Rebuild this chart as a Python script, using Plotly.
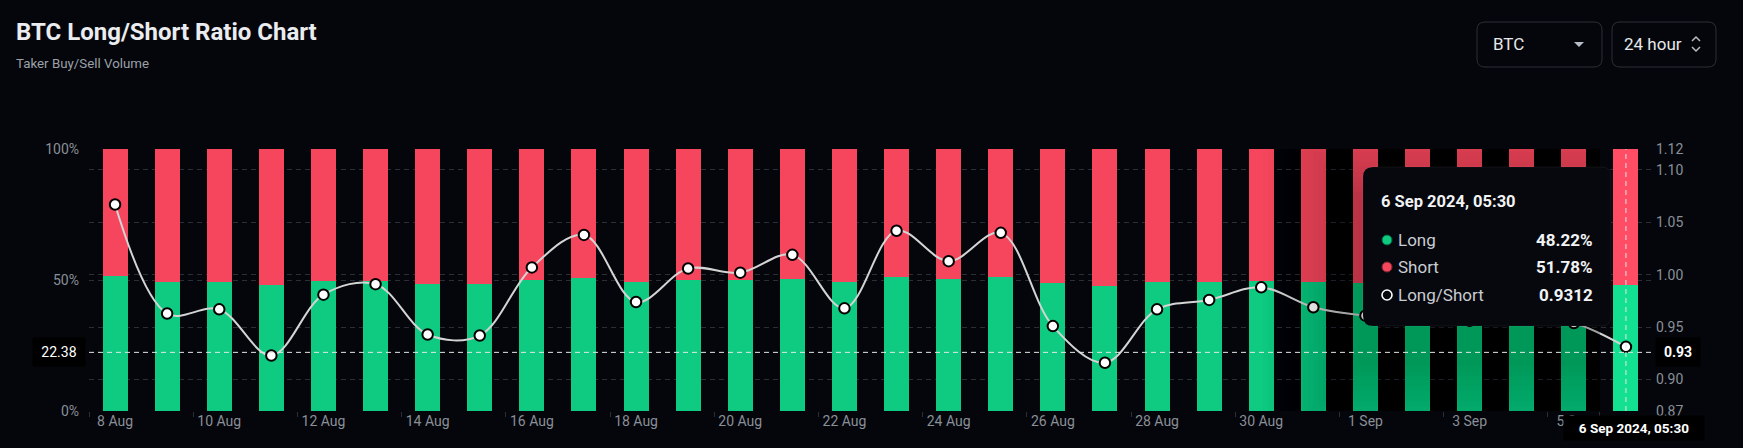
import plotly.graph_objects as go

# ---------------- data ----------------
dates = ["8 Aug", "9 Aug", "10 Aug", "11 Aug", "12 Aug", "13 Aug", "14 Aug", "15 Aug",
         "16 Aug", "17 Aug", "18 Aug", "19 Aug", "20 Aug", "21 Aug", "22 Aug", "23 Aug",
         "24 Aug", "25 Aug", "26 Aug", "27 Aug", "28 Aug", "29 Aug", "30 Aug", "31 Aug",
         "1 Sep", "2 Sep", "3 Sep", "4 Sep", "5 Sep", "6 Sep"]
long_pct = [51.62, 49.06, 49.16, 48.00, 49.52, 49.77, 48.53, 48.51, 50.17, 50.93,
            49.34, 50.15, 50.05, 50.47, 49.19, 51.03, 50.32, 50.98, 48.74, 47.81,
            49.16, 49.39, 49.70, 49.21, 49.01, 48.95, 48.88, 48.98, 48.82, 48.22]
short_pct = [48.38, 50.94, 50.84, 52.00, 50.48, 50.23, 51.47, 51.49, 49.83, 49.07,
             50.66, 49.85, 49.95, 49.53, 50.81, 48.97, 49.68, 49.02, 51.26, 52.19,
             50.84, 50.61, 50.30, 50.79, 50.99, 51.05, 51.12, 51.02, 51.18, 51.78]
ratio = [1.067, 0.963, 0.967, 0.923, 0.981, 0.991, 0.943, 0.942, 1.007, 1.038,
         0.974, 1.006, 1.002, 1.019, 0.968, 1.042, 1.013, 1.040, 0.951, 0.916,
         0.967, 0.976, 0.988, 0.969, 0.961, 0.959, 0.956, 0.960, 0.954, 0.9312]
x_tick_labels = dates[::2]
left_ticks = [0, 50, 100]
left_tick_text = ["0%", "50%", "100%"]
right_ticks = [0.87, 0.90, 0.95, 1.00, 1.05, 1.10, 1.12]
right_tick_text = ["0.87", "0.90", "0.95", "1.00", "1.05", "1.10", "1.12"]
hover_idx = len(dates) - 1
cross_left_value = 22.38
cross_right_text = "0.93"
tooltip_title = "6 Sep 2024, 05:30"

# ---------------- layout geometry (pixels) ----------------
W, H = 1743, 448
L, R, T, B = 89, 1652, 149, 411
FONT = "Roboto"
BG = "#04060b"
GREEN = "#0ecb81"
RED = "#f6465d"
GRID = "#2a2e36"


def px(xp):
    return (xp - L) / (R - L)


def py(yp):
    return (B - yp) / (B - T)


def rrect(x0, y0, x1, y1, r):
    X0, X1 = px(x0), px(x1)
    Yt, Yb = py(y0), py(y1)
    rx = r / (R - L)
    ry = r / (B - T)
    return (f"M {X0+rx},{Yt} L {X1-rx},{Yt} Q {X1},{Yt} {X1},{Yt-ry} "
            f"L {X1},{Yb+ry} Q {X1},{Yb} {X1-rx},{Yb} L {X0+rx},{Yb} "
            f"Q {X0},{Yb} {X0},{Yb+ry} L {X0},{Yt-ry} Q {X0},{Yt} {X0+rx},{Yt} Z")


green_colors = [GREEN] * len(dates)
red_colors = [RED] * len(dates)
green_colors[hover_idx] = "#13e091"
red_colors[hover_idx] = "#ff4d66"

fig = go.Figure()
fig.add_trace(go.Bar(x=dates, y=long_pct, name="Long", marker=dict(color=green_colors, line=dict(width=0)),
                     hoverinfo="skip"))
fig.add_trace(go.Bar(x=dates, y=short_pct, name="Short", marker=dict(color=red_colors, line=dict(width=0)),
                     hoverinfo="skip"))
fig.add_trace(go.Scatter(x=dates, y=ratio, name="Long/Short", yaxis="y2", mode="lines+markers",
                         line=dict(color="#d4d4d4", width=2, shape="spline", smoothing=1),
                         marker=dict(size=10.5, color="#ffffff", line=dict(color="#000000", width=2)),
                         hoverinfo="skip"))

shapes = []
# tooltip shadow (soft, many thin layers)
for k in range(1, 21):
    pad = k * 5
    x0 = max(L, 1363 - pad)
    x1 = min(1600, 1611 + pad)
    y0 = max(T, 167 - pad + 35)
    y1 = min(B, 326 + pad + 35)
    shapes.append(dict(type="rect", xref="paper", yref="paper", x0=px(x0), x1=px(x1),
                       y0=py(y1), y1=py(y0), fillcolor="rgba(0,0,0,0.012)", line=dict(width=0),
                       layer="above"))
# crosshairs
shapes.append(dict(type="line", xref="paper", yref="y", x0=0, x1=1, y0=cross_left_value, y1=cross_left_value,
                   line=dict(color="#e6e6e6", width=1, dash="5px,4px"), layer="above"))
shapes.append(dict(type="line", xref="x", yref="paper", x0=dates[hover_idx], x1=dates[hover_idx], y0=0, y1=1,
                   line=dict(color="#e6e6e6", width=1, dash="5px,4px"), layer="above"))
# tooltip box
shapes.append(dict(type="path", xref="paper", yref="paper", path=rrect(1363, 167, 1611, 326, 10),
                   fillcolor="#06080d", line=dict(color="rgba(255,255,255,0.06)", width=1), layer="above"))


def circle(cx, cy, r, fill, line_color, lw):
    return dict(type="circle", xref="paper", yref="paper", x0=px(cx - r), x1=px(cx + r),
                y0=py(cy + r), y1=py(cy - r), fillcolor=fill, line=dict(color=line_color, width=lw),
                layer="above")


shapes.append(circle(1387, 240, 5, GREEN, "#0a5c3c", 1))
shapes.append(circle(1387, 267, 5, RED, "#7a2530", 1))
shapes.append(circle(1387, 295, 5, "#06080d", "#ffffff", 1.6))
# header boxes
shapes.append(dict(type="path", xref="paper", yref="paper", path=rrect(1477, 22, 1602, 67, 8),
                   fillcolor=BG, line=dict(color="#2b2f36", width=1), layer="above"))
shapes.append(dict(type="path", xref="paper", yref="paper", path=rrect(1612, 22, 1716, 67, 8),
                   fillcolor=BG, line=dict(color="#2b2f36", width=1), layer="above"))
shapes.append(dict(type="path", xref="paper", yref="paper",
                   path=f"M {px(1574)},{py(42)} L {px(1584)},{py(42)} L {px(1579)},{py(47)} Z",
                   fillcolor="#b7bdc6", line=dict(width=0), layer="above"))
shapes.append(dict(type="path", xref="paper", yref="paper",
                   path=f"M {px(1692)},{py(41)} L {px(1696)},{py(37)} L {px(1700)},{py(41)}",
                   line=dict(color="#b7bdc6", width=1.5), layer="above"))
shapes.append(dict(type="path", xref="paper", yref="paper",
                   path=f"M {px(1692)},{py(47)} L {px(1696)},{py(51)} L {px(1700)},{py(47)}",
                   line=dict(color="#b7bdc6", width=1.5), layer="above"))

ann = []
ann.append(dict(text="<b>BTC Long/Short Ratio Chart</b>", xref="paper", yref="paper", x=px(14), y=py(32),
                xanchor="left", yanchor="middle", showarrow=False,
                font=dict(family=FONT, size=24, color="#eaecef")))
ann.append(dict(text="Taker Buy/Sell Volume", xref="paper", yref="paper", x=px(14), y=py(64),
                xanchor="left", yanchor="middle", showarrow=False,
                font=dict(family=FONT, size=13.3, color="#9ca1a9")))
ann.append(dict(text="BTC", xref="paper", yref="paper", x=px(1491), y=py(44.5), xanchor="left",
                yanchor="middle", showarrow=False, font=dict(family=FONT, size=17, color="#e6e8ea")))
ann.append(dict(text="24 hour", xref="paper", yref="paper", x=px(1622), y=py(44.5), xanchor="left",
                yanchor="middle", showarrow=False, font=dict(family=FONT, size=17, color="#e6e8ea")))
ann.append(dict(text="22.38", xref="paper", yref="y", x=px(59), y=cross_left_value, xanchor="center",
                yanchor="middle", showarrow=False, bgcolor="#000000", width=50, height=26,
                font=dict(family=FONT, size=14, color="#ffffff")))
ann.append(dict(text=f"<b>{cross_right_text}</b>", xref="paper", yref="y", x=px(1678), y=cross_left_value,
                xanchor="center", yanchor="middle", showarrow=False, bgcolor="#000000", width=42, height=26,
                font=dict(family=FONT, size=14, color="#ffffff")))
ann.append(dict(text=f"<b>{tooltip_title}</b>", xref="paper", yref="paper", x=px(1634), y=py(428),
                xanchor="center", yanchor="middle", showarrow=False, bgcolor="#000000", width=138, height=22,
                font=dict(family=FONT, size=13.5, color="#ffffff")))
ann.append(dict(text=f"<b>{tooltip_title}</b>", xref="paper", yref="paper", x=px(1379), y=py(201),
                xanchor="left", yanchor="middle", showarrow=False,
                font=dict(family=FONT, size=16.5, color="#f2f3f5")))
rows = [("Long", f"{long_pct[hover_idx]:.2f}%", 240),
        ("Short", f"{short_pct[hover_idx]:.2f}%", 267),
        ("Long/Short", f"{ratio[hover_idx]:.4f}", 295)]
for lab, val, yy in rows:
    ann.append(dict(text=lab, xref="paper", yref="paper", x=px(1396), y=py(yy), xanchor="left",
                    yanchor="middle", showarrow=False, font=dict(family=FONT, size=17, color="#c9ccd2")))
    ann.append(dict(text=f"<b>{val}</b>", xref="paper", yref="paper", x=px(1595), y=py(yy), xanchor="right",
                    yanchor="middle", showarrow=False, font=dict(family=FONT, size=17, color="#f2f3f5")))

fig.update_layout(
    width=W, height=H,
    margin=dict(l=L, r=W - R, t=T, b=H - B, autoexpand=False),
    paper_bgcolor=BG, plot_bgcolor=BG,
    barmode="stack", bargap=0.52,
    showlegend=False,
    font=dict(family=FONT, color="#8a8f98"),
    xaxis=dict(type="category", categoryorder="array", categoryarray=dates,
               range=[-0.5, len(dates) - 0.5],
               tickmode="array", tickvals=x_tick_labels, ticktext=x_tick_labels, tickangle=0,
               tickson="boundaries", ticks="outside", ticklen=5, tickcolor=GRID,
               showgrid=False, zeroline=False, showline=False,
               tickfont=dict(family=FONT, size=14, color="#8a8f98")),
    yaxis=dict(range=[0, 100], tickmode="array", tickvals=left_ticks, ticktext=left_tick_text,
               showgrid=True, gridcolor=GRID, griddash="5px,4px", gridwidth=1,
               zeroline=False, showline=False, ticks="", ticklabelstandoff=9,
               tickfont=dict(family=FONT, size=14, color="#8a8f98")),
    yaxis2=dict(range=[0.87, 1.12], overlaying="y", side="right", tickmode="array",
                tickvals=right_ticks, ticktext=right_tick_text,
                showgrid=True, gridcolor=GRID, griddash="5px,4px", gridwidth=1,
                zeroline=False, showline=False, ticks="", ticklabelstandoff=3,
                tickfont=dict(family=FONT, size=14, color="#8a8f98")),
    shapes=shapes,
    annotations=ann,
)

fig.write_html("out.html", config={"displayModeBar": False},
               post_script="document.body.style.margin='0';document.body.style.background='#04060b';")
